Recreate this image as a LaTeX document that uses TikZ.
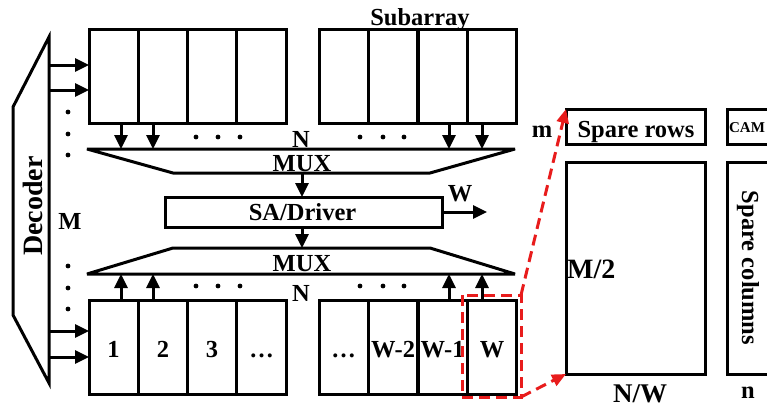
\documentclass[tikz,border=0pt]{standalone}
\usepackage{fontspec}
\setmainfont{Liberation Serif}
\usetikzlibrary{arrows.meta}
\definecolor{dashred}{RGB}{232,28,28}
\tikzset{
  ln/.style={line width=3pt},
  arr/.style={ln,-{Triangle[length=14pt,width=13pt]}},
  lbl/.style={font=\bfseries\fontsize{24.5}{26}\selectfont, inner sep=0pt, anchor=base},
  cell/.style={draw, ln, minimum width=49.3pt, minimum height=94pt, inner sep=0pt, outer sep=0pt, anchor=north west},
  box/.style={draw, ln, inner sep=0pt, outer sep=0pt, anchor=north west},
  dotmark/.style={circle, fill, inner sep=0pt, minimum size=4.8pt},
  reddash/.style={draw=dashred, line width=3pt, dash pattern=on 11pt off 6pt},
  redarr/.style={reddash, -{Triangle[length=14pt,width=12pt,fill=dashred]}}
}
\begin{document}
\begin{tikzpicture}[x=1pt,y=-1pt]
\useasboundingbox (0,0) rectangle (767,410);
\clip (0,0) rectangle (767,410);

% Decoder
\draw[ln] (49,37) -- (13,107) -- (13,315) -- (49,383) -- cycle;
\node[lbl, anchor=center, rotate=90, font=\bfseries\fontsize{28}{30}\selectfont] (dec) at (33,206) {Decoder};
\node[lbl] (Mlbl) at (70,229) {M};

% top arrays
\foreach \i/\x in {1/89,2/138.3,3/187.6,4/236.9} {\node[cell] (t\i) at (\x,29) {};}
\foreach \i/\x in {5/319,6/368.5,7/418,8/467.5} {\node[cell] (t\i) at (\x,29) {};}
% bottom arrays
\foreach \i/\x in {1/89,2/138.3,3/187.6,4/236.9} {\node[cell] (b\i) at (\x,300) {};}
\foreach \i/\x in {5/319,6/368.5,7/418,8/467.5} {\node[cell] (b\i) at (\x,300) {};}

\node[lbl] (sub) at (420,25) {Subarray};

% cell labels
\node[lbl] (l1) at (113.5,357) {1};
\node[lbl] (l2) at (163,357) {2};
\node[lbl] (l3) at (212,357) {3};
\node[lbl] (l4) at (261.5,357) {\dots};
\node[lbl] (l5) at (343.5,357) {\dots};
\node[lbl] (l6) at (393,357) {W-2};
\node[lbl] (l7) at (442.5,357) {W-1};
\node[lbl] (l8) at (492,357) {W};

% decoder arrows
\coordinate (d1) at (49,65); \coordinate (d2) at (49,90);
\coordinate (d3) at (49,331); \coordinate (d4) at (49,357);
\draw[arr] (d1) -- (d1 -| t1.west);
\draw[arr] (d2) -- (d2 -| t1.west);
\draw[arr] (d3) -- (d3 -| b1.west);
\draw[arr] (d4) -- (d4 -| b1.west);

% left dots
\foreach \y in {112,134,155,266,288,309} {\node[dotmark] at (68,\y) {};}

% MUX top
\draw[ln, line join=bevel] (87,149) -- (515,149) -- (430,173) -- (173,173) -- cycle;
\node[lbl] (muxA) at (302,171) {MUX};
\node[lbl] (nA) at (301,147) {N};
\coordinate (mA1) at (121,149); \coordinate (mA2) at (153,149);
\coordinate (mA3) at (449,149); \coordinate (mA4) at (482,149);
\draw[arr] (mA1 |- t1.south) -- (mA1);
\draw[arr] (mA2 |- t1.south) -- (mA2);
\draw[arr] (mA3 |- t8.south) -- (mA3);
\draw[arr] (mA4 |- t8.south) -- (mA4);
\foreach \x in {196,218,240,360,383,404} {\node[dotmark] at (\x,137) {};}

% SA/Driver
\node[box, minimum width=277pt, minimum height=30pt] (sa) at (165,197) {};
\node[lbl] (salbl) at (302.5,220) {SA/Driver};
\coordinate (muxAbot) at (302,173);
\draw[arr] (muxAbot) -- (muxAbot |- sa.north);
\coordinate (wout) at (487,212);
\draw[arr] (sa.east |- wout) -- (wout);
\node[lbl] (wlbl) at (460,201) {W};

% MUX bottom
\draw[ln, line join=bevel] (173,248) -- (430,248) -- (515,274) -- (87,274) -- cycle;
\node[lbl] (muxB) at (302,271) {MUX};
\node[lbl] (nB) at (301,301) {N};
\coordinate (muxBtop) at (302,248);
\draw[arr] (muxBtop |- sa.south) -- (muxBtop);
\coordinate (mB1) at (121,274); \coordinate (mB2) at (153,274);
\coordinate (mB3) at (449,274); \coordinate (mB4) at (482,274);
\draw[arr] (mB1 |- b1.north) -- (mB1);
\draw[arr] (mB2 |- b1.north) -- (mB2);
\draw[arr] (mB3 |- b8.north) -- (mB3);
\draw[arr] (mB4 |- b8.north) -- (mB4);
\foreach \x in {196,218,240,360,383,404} {\node[dotmark] at (\x,286) {};}

% right side
\node[box, minimum width=139pt, minimum height=35pt] (spr) at (566,109) {};
\node[lbl] (sprl) at (636,137) {Spare rows};
\node[lbl] (mlbl) at (542,137) {m};
\node[box, minimum width=60pt, minimum height=35pt] (cam) at (727,109) {};
\node[lbl, font=\bfseries\fontsize{15}{16}\selectfont] (caml) at (747,132) {CAM};
\node[box, minimum width=139pt, minimum height=212pt] (main) at (566,162) {};
\node[lbl, anchor=base west, font=\bfseries\fontsize{28}{30}\selectfont] (m2) at (567,278) {M/2};
\node[lbl, font=\bfseries\fontsize{27}{29}\selectfont] (nw) at (640,402) {N/W};
\node[box, minimum width=60pt, minimum height=212pt] (spc) at (727,162) {};
\node[lbl, anchor=center, rotate=-90] (spcl) at (748,268) {Spare columns};
\node[lbl] (nlbl) at (748,398) {n};

% red dashed selection
\coordinate (rtl) at (462,295); \coordinate (rbr) at (521,397);
\draw[reddash] (rtl) rectangle (rbr);
\draw[redarr] (rbr |- rtl) -- (spr.north west);
\draw[redarr] (rbr) -- (main.south west);
\end{tikzpicture}
\end{document}
